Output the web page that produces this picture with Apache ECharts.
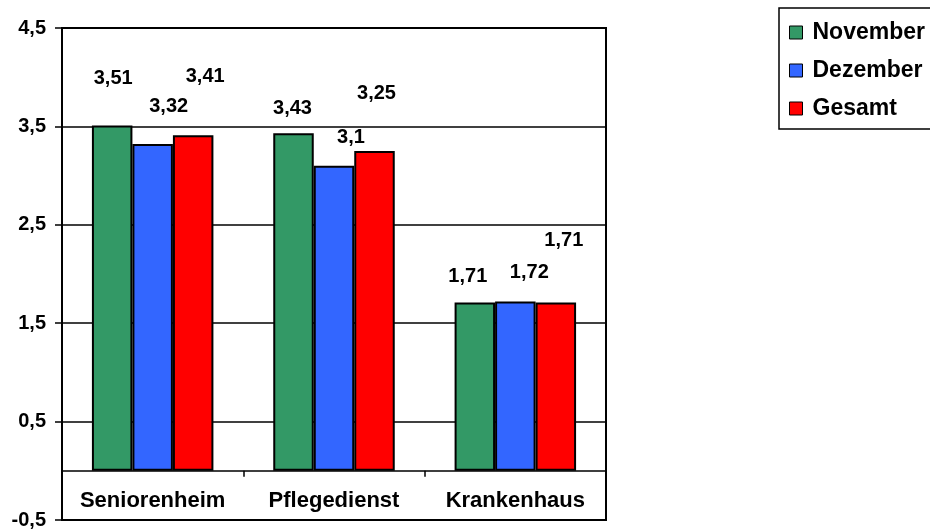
<!DOCTYPE html>
<html>
<head>
<meta charset="utf-8">
<script src="https://cdn.jsdelivr.net/npm/echarts@6/dist/echarts.min.js"></script>
<style>
html,body{margin:0;padding:0;background:#fff;}
#chart{width:930px;height:530px;}
</style>
</head>
<body>
<div id="chart"></div>
<script>
var categories = ['Seniorenheim', 'Pflegedienst', 'Krankenhaus'];
var seriesNames = ['November', 'Dezember', 'Gesamt'];
var november = [3.51, 3.43, 1.71];
var dezember = [3.32, 3.1, 1.72];
var gesamt = [3.41, 3.25, 1.71];

var colors = ['#339966', '#3366FF', '#FF0000'];
// label displacement (style) per series / category, in px
var labelShift = [
  [[1, -47], [-1, -25], [-7, -26]],
  [[16, -38], [17, -28], [14, -29]],
  [[12, -59], [2, -58], [8, -62]]
];
var FONT = '"Liberation Sans", Arial, sans-serif';

function fmt(v) { return String(v).replace('.', ','); }

var allData = [november, dezember, gesamt];
var series = allData.map(function (arr, si) {
  return {
    name: seriesNames[si],
    type: 'bar',
    barGap: '0%',
    barCategoryGap: '33%',
    itemStyle: { color: colors[si], borderColor: '#000', borderWidth: 2 },
    data: arr.map(function (v, ci) {
      return {
        value: v,
        label: { offset: labelShift[si][ci] }
      };
    }),
    label: {
      show: true,
      position: 'top',
      distance: 0,
      verticalAlign: 'middle',
      align: 'center',
      color: '#000',
      fontFamily: FONT,
      fontWeight: 'bold',
      fontSize: 20,
      formatter: function (p) { return fmt(p.value); }
    },
    emphasis: { disabled: true }
  };
});

var chart = echarts.init(document.getElementById('chart'), null, { renderer: 'canvas' });
chart.setOption({
  animation: false,
  backgroundColor: '#fff',
  legend: {
    data: seriesNames,
    orient: 'vertical',
    left: 779,
    top: 8,
    padding: [13, 12, 9, 10],
    itemWidth: 13,
    itemHeight: 13,
    itemGap: 15,
    borderColor: '#000',
    borderWidth: 1.5,
    icon: 'rect',
    itemStyle: { borderColor: '#000', borderWidth: 1 },
    textStyle: { fontFamily: FONT, fontWeight: 'bold', fontSize: 23, color: '#000', padding: [0, 0, 0, 5] }
  },
  grid: {
    left: 62, top: 28, right: 324, bottom: 10,
    outerBoundsMode: 'none',
    containLabel: false,
    show: true, borderColor: '#000', borderWidth: 2, backgroundColor: 'transparent'
  },
  xAxis: {
    type: 'category',
    data: categories,
    axisLine: { onZero: true, lineStyle: { color: '#000', width: 1.5 } },
    axisTick: { show: true, interval: 0, length: 6, inside: false, lineStyle: { color: '#000', width: 1.5 } },
    axisLabel: { interval: 0, hideOverlap: false, margin: -30, color: '#000', fontFamily: FONT, fontWeight: 'bold', fontSize: 22 },
    splitLine: { show: false }
  },
  yAxis: {
    type: 'value',
    min: -0.5,
    max: 4.5,
    interval: 1,
    axisLine: { show: true, lineStyle: { color: '#000', width: 2 } },
    axisTick: { show: true, length: 7, lineStyle: { color: '#000', width: 1.5 } },
    axisLabel: {
      margin: 16, color: '#000', fontFamily: FONT, fontWeight: 'bold', fontSize: 20,
      formatter: function (v) { return fmt(v); }
    },
    splitLine: { show: true, lineStyle: { color: '#000', width: 1.5 } }
  },
  series: series
});
</script>
</body>
</html>
